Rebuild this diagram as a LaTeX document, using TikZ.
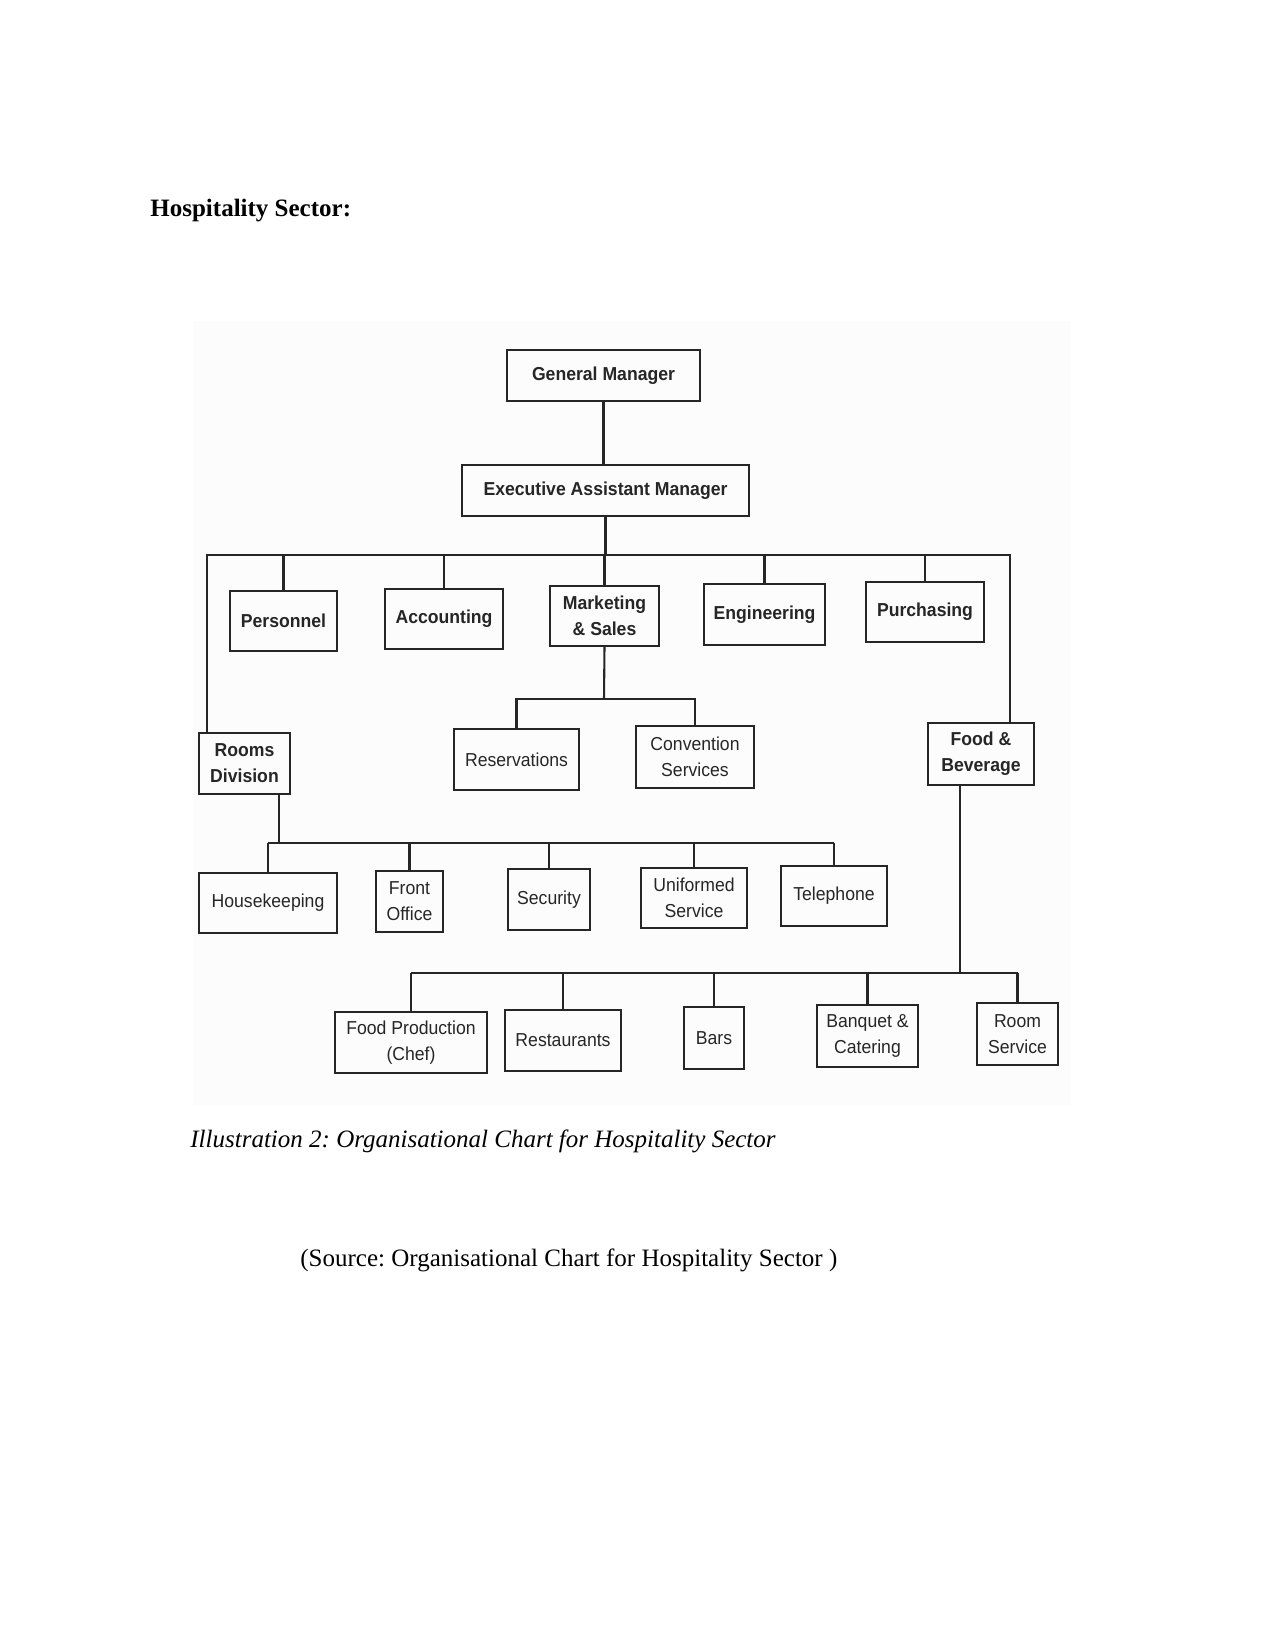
\documentclass[tikz,border=0pt]{standalone}
\usepackage{fontspec}
\setmainfont{Liberation Serif}
\newfontfamily\chartfont[FakeStretch=0.94]{Liberation Sans}
\frenchspacing
\newcommand\orgbox[7]{\node[#6, minimum width={(#4-#2)*0.48pt}, minimum height={(#5-#3)*0.48pt}] (#1) at ({(#2+#4)/2},{(#3+#5)/2}) {#7};}
\tikzset{
  unit/.style={draw=black!85, line width=1.1pt, inner sep=0pt, outer sep=0pt, align=center,
    font=\chartfont\fontsize{9}{12.5}\selectfont, text=black!85},
  bbox/.style={unit, font=\chartfont\bfseries\fontsize{9}{12.5}\selectfont},
  rbox/.style={unit},
  link/.style={draw=black!85, line width=1pt},
}
\begin{document}
\begin{tikzpicture}[x=0.48pt,y=-0.48pt]
\useasboundingbox (0,0) rectangle (1275,1650);
\fill[white] (0,0) rectangle (1275,1650);
\fill[gray!2] (193,321) rectangle (1071,1105);

\node[anchor=base west, inner sep=0pt, font=\bfseries\fontsize{12}{14}\selectfont] (title) at (150,217) {Hospitality Sector:};

% top
\orgbox{gm}{507}{350}{700}{401}{bbox}{General Manager}
\orgbox{eam}{462}{465}{749}{516}{bbox}{Executive Assistant Manager}

% second level
\orgbox{pers}{230}{591}{337}{651}{bbox}{Personnel}
\orgbox{acc}{385}{589}{503}{649}{bbox}{Accounting}
\orgbox{ms}{550}{586}{659}{646}{bbox}{Marketing\\\& Sales}
\orgbox{eng}{704}{584}{825}{645}{bbox}{Engineering}
\orgbox{pur}{866}{582}{984}{642}{bbox}{Purchasing}

% third level
\orgbox{rd}{199}{733}{290}{794}{bbox}{Rooms\\Division}
\orgbox{res}{454}{729}{579}{790}{rbox}{Reservations}
\orgbox{conv}{636}{726}{754}{788}{rbox}{Convention\\Services}
\orgbox{fb}{928}{723}{1034}{785}{bbox}{Food \&\\Beverage}

% rooms children
\orgbox{hk}{199}{873}{337}{933}{rbox}{Housekeeping}
\orgbox{fo}{376}{871}{443}{932}{rbox}{Front\\Office}
\orgbox{sec}{508}{869}{590}{930}{rbox}{Security}
\orgbox{uni}{641}{868}{747}{928}{rbox}{Uniformed\\Service}
\orgbox{tel}{781}{866}{887}{926}{rbox}{Telephone}

% F&B children
\orgbox{fp}{335}{1012}{487}{1073}{rbox}{Food Production\\(Chef)}
\orgbox{rest}{505}{1010}{621}{1071}{rbox}{Restaurants}
\orgbox{bars}{684}{1007}{744}{1069}{rbox}{Bars}
\orgbox{banq}{817}{1005}{918}{1067}{rbox}{Banquet \&\\Catering}
\orgbox{rs}{977}{1003}{1058}{1065}{rbox}{Room\\Service}

% connector coordinates
\coordinate (barL) at (207,555);
\coordinate (barR) at (1010,555);
\coordinate (msbar) at (604,699);
\coordinate (rdd) at (279,843);
\coordinate (fbd) at (960,973);

% GM -> EAM
\draw[link] (gm.south) -- (gm.south |- eam.north);
% EAM -> bar
\draw[link] (eam.south) -- (eam.south |- barL);
\draw[link] (barL |- rd.north) -- (barL) -- (barR) -- (barR |- fb.north);
\foreach \n in {pers,acc,ms,eng,pur}{
  \draw[link] (\n.north) -- (\n.north |- barL);
}
% Marketing children
\draw[link] (ms.south) -- (msbar);
\draw[link] (res.north) -- (res.north |- msbar) -- (conv.north |- msbar) -- (conv.north);
% Rooms division children
\draw[link] (rdd |- rd.south) -- (rdd);
\draw[link] (hk.north |- rdd) -- (tel.north |- rdd);
\foreach \n in {hk,fo,sec,uni,tel}{
  \draw[link] (\n.north) -- (\n.north |- rdd);
}
% F&B children
\draw[link] (fbd |- fb.south) -- (fbd);
\draw[link] (fp.north |- fbd) -- (rs.north |- fbd);
\foreach \n in {fp,rest,bars,banq,rs}{
  \draw[link] (\n.north) -- (\n.north |- fbd);
}

\node[anchor=base west, inner sep=0pt, font=\itshape\fontsize{12}{14}\selectfont] (cap) at (190,1147) {Illustration 2: Organisational Chart for Hospitality Sector};
\node[anchor=base west, inner sep=0pt, font=\fontsize{12}{14}\selectfont] (src) at (300,1266) {(Source: Organisational Chart for Hospitality Sector )};
\end{tikzpicture}
\end{document}
